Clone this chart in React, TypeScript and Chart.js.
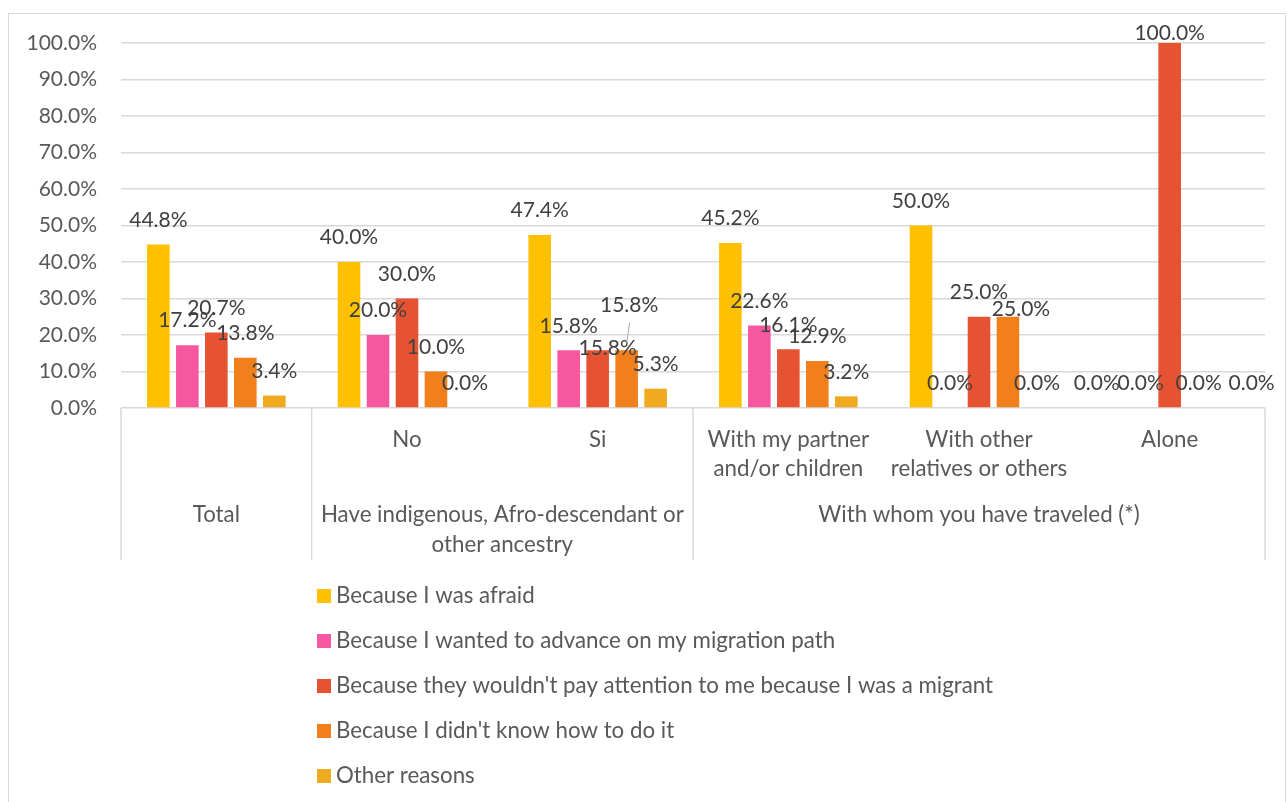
import React, { useEffect, useRef } from "react";
import { Chart, registerables } from "chart.js";

Chart.register(...registerables);

// ---------- data ----------
const categories = ["Total", "No", "Si", "With my partner and/or children", "With other relatives or others", "Alone"];
const categoryLines: string[][] = [[], ["No"], ["Si"], ["With my partner", "and/or children"], ["With other", "relatives or others"], ["Alone"]];
const groupLabels: string[][] = [["Total"], ["Have indigenous, Afro-descendant or", "other ancestry"], ["With whom you have traveled (*)"]];
const groupSizes = [1, 2, 3];

const seriesNames = [
  "Because I was afraid",
  "Because I wanted to advance on my migration path",
  "Because they wouldn't pay attention to me because I was a migrant",
  "Because I didn't know how to do it",
  "Other reasons",
];
const afraid = [44.8, 40.0, 47.4, 45.2, 50.0, 0.0];
const advance = [17.2, 20.0, 15.8, 22.6, 0.0, 0.0];
const attention = [20.7, 30.0, 15.8, 16.1, 25.0, 100.0];
const didntKnow = [13.8, 10.0, 15.8, 12.9, 25.0, 0.0];
const otherReasons = [3.4, 0.0, 5.3, 3.2, 0.0, 0.0];
const seriesColors = ["#FFC000", "#F7579E", "#E65332", "#F07F1C", "#EFAA20"];

const yMin = 0;
const yMax = 100;
const yStep = 10;

// ---------- style ----------
const FONT = "Lato, 'Open Sans', sans-serif";
const TEXT_SIZE = 22.3;
const NUM_SIZE = 21;
const GRID = "#D9D9D9";
const AXIS_TEXT = "#595959";
const LABEL_TEXT = "#404040";

// manual data-label adjustments (as in the source chart)
const labelNudges: Record<string, { dx: number; dy: number; leader?: boolean }> = {
  "2-2": { dx: 10, dy: 22 },
  "3-2": { dx: 2.5, dy: -21, leader: true },
  "3-4": { dx: 13, dy: 17 },
  "0-5": { dx: -15, dy: 0 },
  "4-5": { dx: 24, dy: 0 },
  "2-5": { dx: 0, dy: 15 },
};

const overlayPlugin = {
  id: "overlay",
  afterDatasetsDraw(chart: any) {
    const ctx = chart.ctx;
    ctx.save();
    ctx.font = `${NUM_SIZE}px ${FONT}`;
    ctx.fillStyle = LABEL_TEXT;
    ctx.textAlign = "center";
    ctx.textBaseline = "middle";
    chart.data.datasets.forEach((ds: any, di: number) => {
      const meta = chart.getDatasetMeta(di);
      meta.data.forEach((el: any, i: number) => {
        const v = ds.data[i] as number;
        const n = labelNudges[`${di}-${i}`] || { dx: 0, dy: 0 };
        const x = el.x + n.dx;
        const y = el.y - 24.5 + n.dy;
        if (n.leader) {
          ctx.save();
          ctx.strokeStyle = "#A6A6A6";
          ctx.lineWidth = 1;
          ctx.beginPath();
          ctx.moveTo(x + 0.5, y + 18);
          ctx.lineTo(el.x, el.y - 7);
          ctx.stroke();
          ctx.restore();
        }
        ctx.fillText(v.toFixed(1) + "%", x, y);
      });
    });
    ctx.restore();
  },
  afterDraw(chart: any) {
    const ctx = chart.ctx;
    const area = chart.chartArea;
    const xs = chart.scales.x;
    const n = categories.length;
    const w = (area.right - area.left) / n;
    ctx.save();
    // separators of multi-level axis
    ctx.strokeStyle = GRID;
    ctx.lineWidth = 1.5;
    let k = 0;
    const bounds = [0];
    groupSizes.forEach((s) => {
      k += s;
      bounds.push(k);
    });
    bounds.forEach((b) => {
      const x = area.left + b * w;
      ctx.beginPath();
      ctx.moveTo(x, area.bottom);
      ctx.lineTo(x, area.bottom + 152);
      ctx.stroke();
    });
    // level-1 labels
    ctx.font = `${TEXT_SIZE}px ${FONT}`;
    ctx.fillStyle = AXIS_TEXT;
    ctx.textAlign = "center";
    ctx.textBaseline = "middle";
    categoryLines.forEach((lines, i) => {
      const cx = xs.getPixelForValue(i);
      lines.forEach((t, j) => ctx.fillText(t, cx, area.bottom + 32 + j * 29));
    });
    // level-2 labels
    let start = 0;
    groupLabels.forEach((lines, g) => {
      const cx = area.left + (start + groupSizes[g] / 2) * w;
      lines.forEach((t, j) => ctx.fillText(t, cx, area.bottom + 107 + j * 30));
      start += groupSizes[g];
    });
    // legend
    ctx.textAlign = "left";
    chart.data.datasets.forEach((ds: any, di: number) => {
      const cy = 582 + di * 45;
      ctx.fillStyle = ds.backgroundColor;
      ctx.fillRect(308, cy - 7, 14, 14);
      ctx.fillStyle = AXIS_TEXT;
      ctx.fillText(ds.label, 327, cy);
    });
    ctx.restore();
  },
};

export default function App() {
  const ref = useRef<HTMLCanvasElement | null>(null);
  useEffect(() => {
    if (!ref.current) return;
    const seriesData = [afraid, advance, attention, didntKnow, otherReasons];
    const chart = new Chart(ref.current, {
      type: "bar",
      data: {
        labels: categories,
        datasets: seriesData.map((d, i) => ({
          label: seriesNames[i],
          data: d,
          backgroundColor: seriesColors[i],
          borderWidth: 0,
          categoryPercentage: 0.76,
          barPercentage: 0.78,
        })),
      },
      options: {
        animation: false,
        responsive: false,
        devicePixelRatio: 1,
        layout: { padding: { top: 29, right: 20, bottom: 404, left: 0 } },
        plugins: { legend: { display: false }, tooltip: { enabled: false } },
        scales: {
          x: { display: false },
          y: {
            min: yMin,
            max: yMax,
            afterFit: (s: any) => {
              s.width = 112;
              s.paddingTop = 0;
              s.paddingBottom = 0;
            },
            ticks: {
              stepSize: yStep,
              padding: 24,
              color: AXIS_TEXT,
              font: { family: FONT, size: NUM_SIZE },
              callback: (v: any) => Number(v).toFixed(1) + "%",
            },
            grid: { color: GRID, lineWidth: 1.5, drawTicks: false },
            border: { display: false },
          },
        },
      },
      plugins: [overlayPlugin],
    });
    return () => chart.destroy();
  }, []);

  return (
    <div
      style={{
        position: "fixed",
        left: 8,
        top: 13,
        width: 1278,
        height: 800,
        border: "1px solid #D9D9D9",
        boxSizing: "border-box",
        background: "#fff",
      }}
    >
      <canvas ref={ref} width={1276} height={798} style={{ display: "block" }} />
    </div>
  );
}
